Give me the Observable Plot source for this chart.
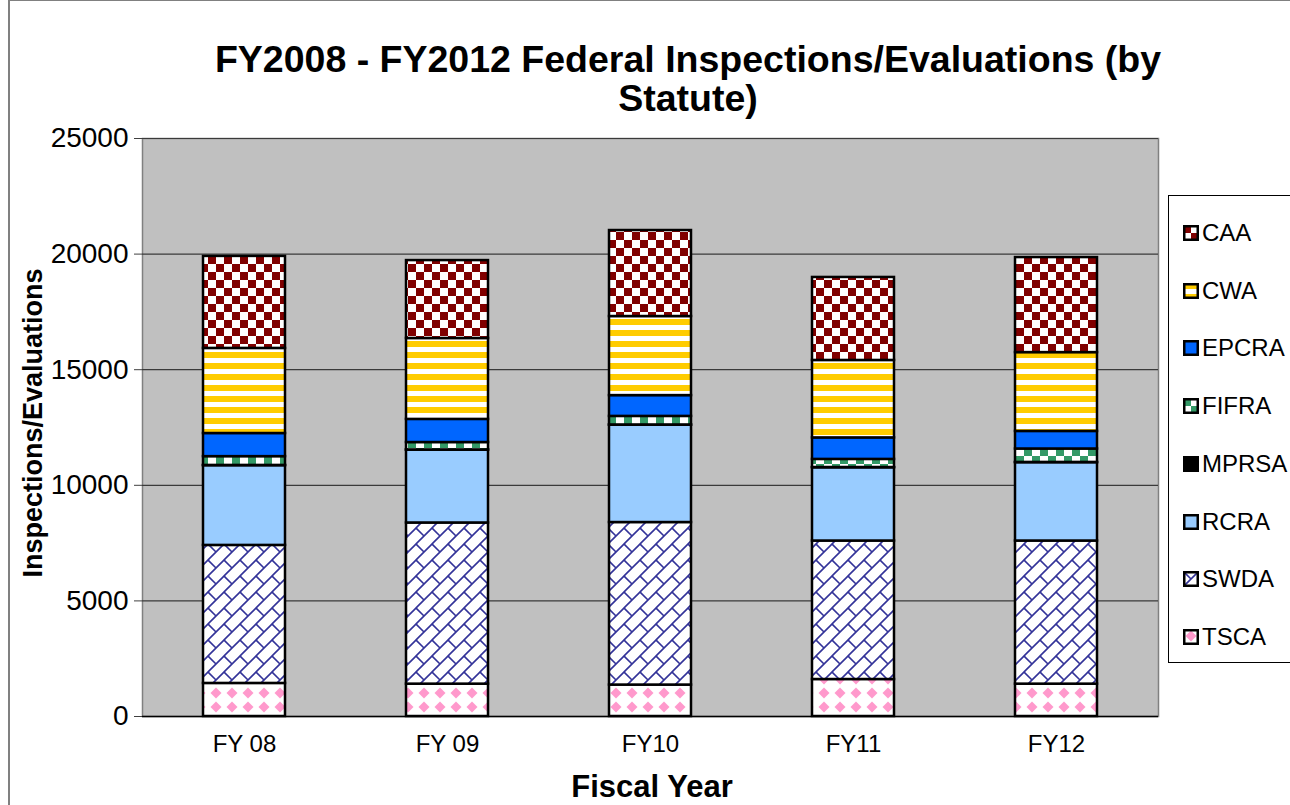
<!DOCTYPE html>
<html>
<head>
<meta charset="utf-8">
<script src="https://cdn.jsdelivr.net/npm/d3@7"></script>
<script src="https://cdn.jsdelivr.net/npm/@observablehq/plot@0.6"></script>
<style>
  html, body { margin: 0; padding: 0; background: #fff; }
  #wrap { position: relative; width: 1290px; height: 805px; overflow: hidden; font-family: "Liberation Sans", Arial, sans-serif; }
  #border { position: absolute; left: 8px; top: 0; width: 2000px; height: 2000px; border-left: 2px solid #808080; border-top: 1px solid #808080; box-sizing: border-box; }
  #title { position: absolute; left: 0; width: 1376px; top: 40px; text-align: center; font-weight: bold; font-size: 37.5px; line-height: 39px; color: #000; }
  #xtitle { position: absolute; left: 452px; width: 400px; top: 770px; text-align: center; font-weight: bold; font-size: 31px; line-height: 34px; }
  #ytitle { position: absolute; left: 33px; top: 423px; transform: translate(-50%, -50%) rotate(-90deg); white-space: nowrap; font-weight: bold; font-size: 27px; line-height: 30px; }
  #legend { position: absolute; left: 1168px; top: 195px; width: 200px; height: 468px; border: 1.5px solid #000; box-sizing: border-box; background: #fff; }
  .item { position: absolute; left: 14px; height: 30px; display: flex; align-items: center; font-size: 24px; }
  .item svg { margin-right: 3px; }
</style>
</head>
<body>
<div id="wrap">
  <div id="border"></div>
  <div id="chart" style="position:absolute;left:0;top:0;"></div>
  <div id="title">FY2008 - FY2012 Federal Inspections/Evaluations (by<br>Statute)</div>
  <div id="ytitle">Inspections/Evaluations</div>
  <div id="xtitle">Fiscal Year</div>
  <div id="legend"></div>
</div>
<script>
// ---- data ----
const years = ["FY 08", "FY 09", "FY10", "FY11", "FY12"];
const statutes = ["TSCA", "SWDA", "RCRA", "MPRSA", "FIFRA", "EPCRA", "CWA", "CAA"]; // bottom to top
const legendOrder = ["CAA", "CWA", "EPCRA", "FIFRA", "MPRSA", "RCRA", "SWDA", "TSCA"];
const TSCA  = [1430, 1400, 1360, 1600, 1400];
const SWDA  = [5970, 6970, 7030, 5990, 6190];
const RCRA  = [3450, 3150, 4210, 3170, 3390];
const MPRSA = [10, 10, 10, 10, 10];
const FIFRA = [380, 320, 370, 350, 580];
const EPCRA = [1000, 1000, 900, 930, 760];
const CWA   = [3680, 3500, 3420, 3350, 3410];
const CAA   = [3980, 3370, 3720, 3590, 4110];
const yTicks = [0, 5000, 10000, 15000, 20000, 25000];

const series = {TSCA, SWDA, RCRA, MPRSA, FIFRA, EPCRA, CWA, CAA};
const table = [];
years.forEach((yr, i) => {
  statutes.forEach(s => table.push({year: yr, statute: s, value: series[s][i]}));
});

const chart = Plot.plot({
  width: 1290,
  height: 805,
  marginLeft: 142,
  marginRight: 132,
  marginTop: 138,
  marginBottom: 89,
  style: {fontFamily: "'Liberation Sans', Arial, sans-serif", background: "transparent", color: "#000"},
  x: {domain: years, paddingInner: 0.596, paddingOuter: 0.298, label: null},
  y: {domain: [0, 25000], label: null},
  color: {type: "ordinal", domain: statutes, range: statutes.map(s => `url(#pat-${s})`)},
  marks: [
    Plot.frame({fill: "#c0c0c0", stroke: "#808080", strokeWidth: 1.5}),
    Plot.gridY(yTicks, {stroke: "#3a3a3a", strokeOpacity: 1, strokeWidth: 1.2}),
    Plot.axisY({ticks: yTicks, tickSize: 8, tickPadding: 6, tickFormat: d3.format("d"), fontSize: 28, label: null, stroke: "#404040"}),
    Plot.axisX({tickSize: 0, tickPadding: 18, fontSize: 24, label: null}),
    Plot.barY(table, {x: "year", y: "value", fill: "statute", stroke: "#000", strokeWidth: 2.5}),
    Plot.ruleY([0], {stroke: "#000", strokeWidth: 1.5})
  ]
});

// ---- patterns ----
const defs = d3.select(chart).insert("defs", ":first-child");
function pat(id, w, h) {
  return defs.append("pattern").attr("id", "pat-" + id).attr("patternUnits", "userSpaceOnUse")
    .attr("width", w).attr("height", h);
}
// CAA checker dark red
let p = pat("CAA", 16, 16);
p.append("rect").attr("width", 16).attr("height", 16).attr("fill", "#fff");
p.append("rect").attr("width", 8).attr("height", 8).attr("fill", "#800000");
p.append("rect").attr("x", 8).attr("y", 8).attr("width", 8).attr("height", 8).attr("fill", "#800000");
// CWA horizontal stripes
p = pat("CWA", 11, 11);
p.append("rect").attr("width", 11).attr("height", 11).attr("fill", "#fff");
p.append("rect").attr("width", 11).attr("height", 6).attr("fill", "#ffcc00");
// EPCRA solid
p = pat("EPCRA", 8, 8);
p.append("rect").attr("width", 8).attr("height", 8).attr("fill", "#0066ff");
// FIFRA green checker
p = pat("FIFRA", 16, 16);
p.append("rect").attr("width", 16).attr("height", 16).attr("fill", "#fff");
p.append("rect").attr("width", 8).attr("height", 8).attr("fill", "#339966");
p.append("rect").attr("x", 8).attr("y", 8).attr("width", 8).attr("height", 8).attr("fill", "#339966");
// MPRSA black
p = pat("MPRSA", 8, 8);
p.append("rect").attr("width", 8).attr("height", 8).attr("fill", "#000");
// RCRA light blue
p = pat("RCRA", 8, 8);
p.append("rect").attr("width", 8).attr("height", 8).attr("fill", "#99ccff");
// SWDA diagonal brick
p = pat("SWDA", 16, 16);
p.append("rect").attr("width", 16).attr("height", 16).attr("fill", "#fff");
p.append("path").attr("d", "M-2,18 L18,-2 M0,0 L8,8 M-2,2 L2,-2 M14,18 L18,14")
  .attr("stroke", "#333399").attr("stroke-width", 1.6).attr("fill", "none");
// TSCA pink diamonds
p = pat("TSCA", 16, 14);
p.append("rect").attr("width", 16).attr("height", 14).attr("fill", "#fff");
p.append("path").attr("d", "M8,1.5 L13.5,7 L8,12.5 L2.5,7 Z")
  .attr("fill", "#ff99cc");

document.getElementById("chart").appendChild(chart);

// ---- legend ----
const legend = d3.select("#legend");
legendOrder.forEach((s, i) => {
  const item = legend.append("div").attr("class", "item").style("top", (22 + i * 57.7) + "px");
  const sv = item.append("svg").attr("width", 16).attr("height", 16);
  sv.append("rect").attr("x", 1.25).attr("y", 1.25).attr("width", 13.5).attr("height", 13.5)
    .attr("fill", `url(#pat-${s})`).attr("stroke", "#000").attr("stroke-width", 2.5);
  item.append("span").text(s);
});
</script>
</body>
</html>
